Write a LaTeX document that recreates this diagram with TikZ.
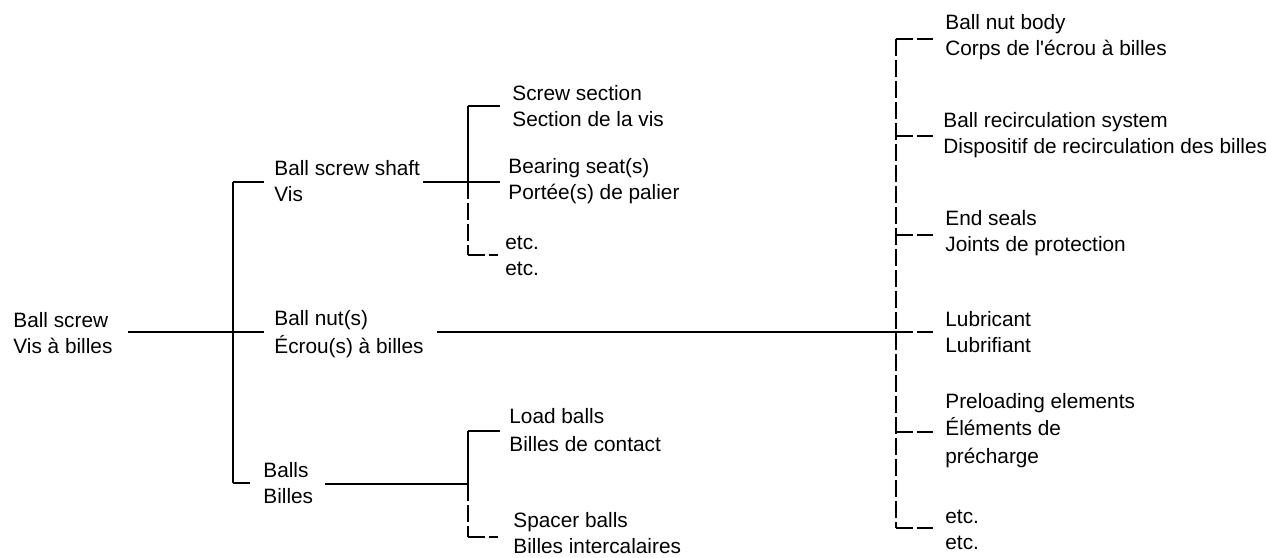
\documentclass[tikz,border=0pt]{standalone}
\usepackage{fontspec}
\setmainfont{Liberation Sans}
\newcommand\straightq{\XeTeXglyph\XeTeXcharglyph"27\relax}
\begin{document}
\begin{tikzpicture}[x=0.5pt,y=-0.5pt,
  lbl/.style={anchor=base west,inner sep=0pt,align=left,font=\fontsize{10.4}{12.6}\selectfont},
  conn/.style={line width=0.7pt,black},
  dconn/.style={conn,dash pattern=on 8.5pt off 2pt}]
\useasboundingbox (0,0) rectangle (1267,557);
% nodes (anchored at the baseline of the last line)
\node[lbl] (root) at (13,353) {Ball screw\\Vis à billes};
\node[lbl] (shaft) at (274,201) {Ball screw shaft\\Vis};
\node[lbl] (nut) at (274,353) {Ball nut(s)\\[1pt]Écrou(s) à billes};
\node[lbl] (balls) at (263,503) {Balls\\Billes};
\node[lbl] (screwsec) at (512,126) {Screw section\\Section de la vis};
\node[lbl] (bearing) at (508,199) {Bearing seat(s)\\Portée(s) de palier};
\node[lbl] (etcA) at (505,275) {etc.\\etc.};
\node[lbl] (load) at (509,451) {Load balls\\[1pt]Billes de contact};
\node[lbl] (spacer) at (513,553) {Spacer balls\\Billes intercalaires};
\node[lbl] (body) at (945,55) {Ball nut body\\Corps de l\straightq écrou à billes};
\node[lbl] (recirc) at (943,153) {Ball recirculation system\\Dispositif de recirculation des billes};
\node[lbl] (seals) at (945,251) {End seals\\Joints de protection};
\node[lbl] (lube) at (945,352) {Lubricant\\Lubrifiant};
\node[lbl] (preload) at (945,463) {Preloading elements\\[1pt]Éléments de\\[1pt]précharge};
\node[lbl] (etcB) at (945,549) {etc.\\etc.};
% junction coordinates
\coordinate (rootout) at (128,332);
\coordinate (j1) at (233,332);
\coordinate (j1t) at (233,182);
\coordinate (j1b) at (233,483);
\coordinate (shaftin) at (264,182);
\coordinate (nutin) at (264,332);
\coordinate (ballsin) at (250,483);
\coordinate (shaftout) at (423,182);
\coordinate (j2) at (468,182);
\coordinate (j2t) at (468,106);
\coordinate (j2b) at (468,255);
\coordinate (screwin) at (500,106);
\coordinate (bearin) at (500,182);
\coordinate (etcAin) at (498,255);
\coordinate (nutout) at (437,332);
\coordinate (j3) at (896,332);
\coordinate (j3t) at (896,39);
\coordinate (j3r) at (896,136);
\coordinate (j3s) at (896,235);
\coordinate (j3p) at (896,432);
\coordinate (j3b) at (896,528);
\coordinate (bodyin) at (933,39);
\coordinate (recin) at (933,136);
\coordinate (sealin) at (933,235);
\coordinate (lubein) at (933,332);
\coordinate (prein) at (933,432);
\coordinate (etcBin) at (933,528);
\coordinate (ballsout) at (325,484);
\coordinate (j4) at (468,484);
\coordinate (j4t) at (468,431);
\coordinate (j4b) at (468,537);
\coordinate (loadin) at (500,431);
\coordinate (spacin) at (498,537);
% level 1
\draw[conn] (rootout) -- (nutin);
\draw[conn] (j1t) -- (j1b);
\draw[conn] (j1t) -- (shaftin);
\draw[conn] (j1b) -- (ballsin);
% shaft
\draw[conn] (shaftout) -- (bearin);
\draw[conn] (j2t) -- (j2);
\draw[conn] (j2t) -- (screwin);
\draw[dconn] (j2) -- (j2b);
\draw[dconn] (j2b) -- (etcAin);
% nut
\draw[conn] (nutout) -- (j3);
\draw[dconn] (j3t) -- (j3b);
\draw[dconn] (j3t) -- (bodyin);
\draw[dconn] (j3r) -- (recin);
\draw[dconn] (j3s) -- (sealin);
\draw[dconn] (j3) -- (lubein);
\draw[dconn] (j3p) -- (prein);
\draw[dconn] (j3b) -- (etcBin);
% balls
\draw[conn] (ballsout) -- (j4);
\draw[conn] (j4t) -- (j4);
\draw[conn] (j4t) -- (loadin);
\draw[dconn] (j4) -- (j4b);
\draw[dconn] (j4b) -- (spacin);
\end{tikzpicture}
\end{document}
